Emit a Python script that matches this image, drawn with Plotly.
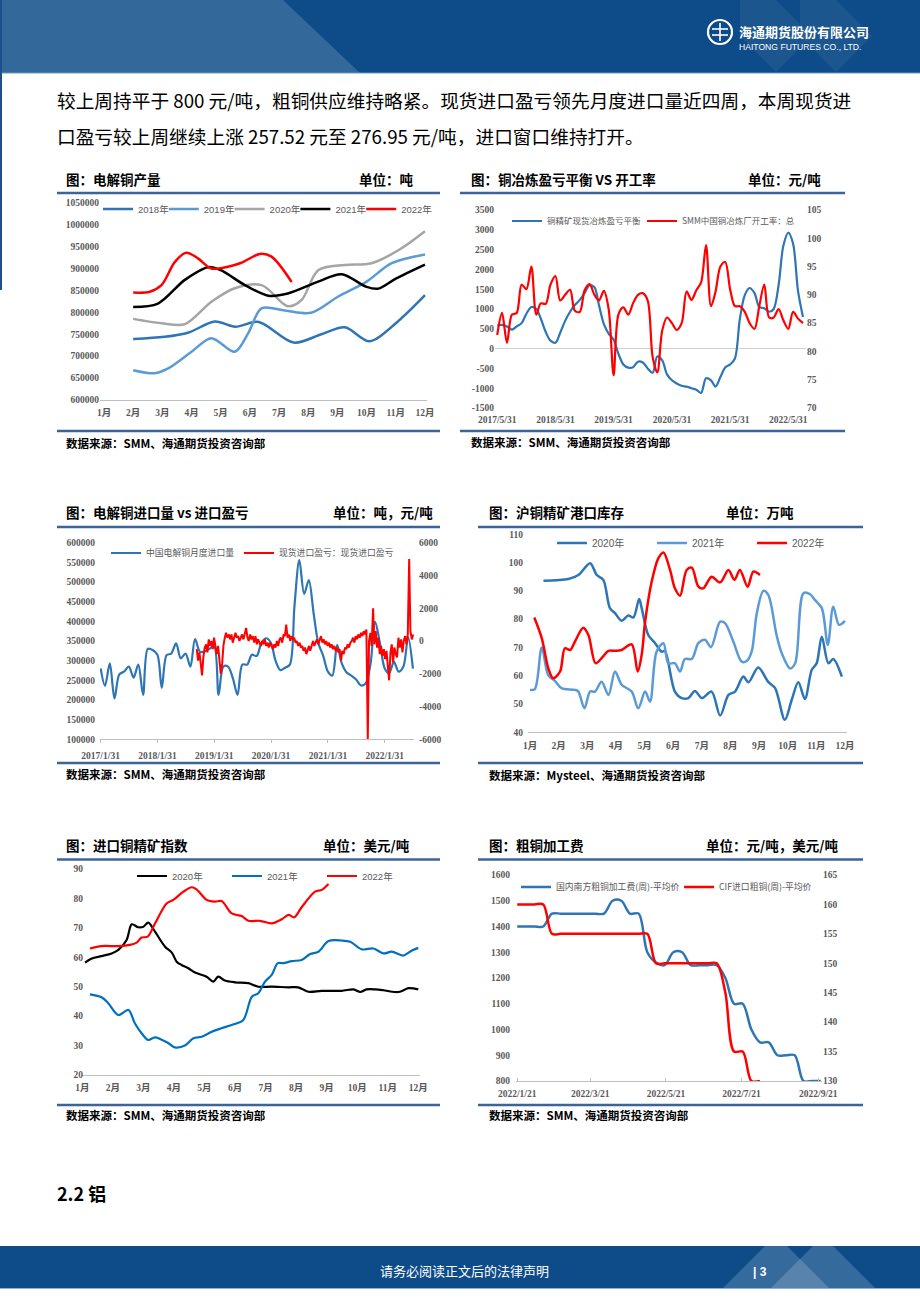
import plotly.graph_objects as go
import pandas as pd

W, H = 920, 1302


def PX(x):
    return x / W


def PY(y):
    return 1 - y / H


# ---------------- Chart 1 : 电解铜产量 (吨) ----------------
c1_months = list(range(1, 13))
c1_month_labels = [f"{m}月" for m in c1_months]
c1_yticks = list(range(600000, 1050001, 50000))
c1_2018_m = [2.0, 3.08, 3.9, 4.8, 5.5, 6.3, 7.5, 8.45, 9.25, 10.1, 11.0, 12.0]
c1_2018_v = [739000, 744000, 754000, 779000, 767000, 778000, 731000, 750000, 766000, 734000, 775000, 839000]
c1_2019_m = [2.0, 2.74, 3.2, 4.0, 4.68, 5.48, 5.94, 6.4, 7.2, 8.1, 9.03, 10.0, 10.86, 12.0]
c1_2019_v = [668000, 661000, 672000, 710000, 741000, 710000, 752000, 809000, 804000, 799000, 836000, 870000, 912000, 932000]
c1_2020_m = [2.0, 2.97, 3.77, 4.68, 5.48, 6.4, 7.3, 7.77, 8.34, 9.25, 10.17, 11.1, 12.0]
c1_2020_v = [785000, 775000, 773000, 824000, 855000, 862000, 814000, 828000, 896000, 908000, 912000, 942000, 985000]
c1_2021_m = [2.0, 2.85, 3.77, 4.57, 5.0, 5.83, 6.63, 7.3, 8.34, 9.14, 10.0, 10.4, 11.0, 12.0]
c1_2021_v = [812000, 820000, 874000, 903000, 896000, 862000, 838000, 843000, 870000, 887000, 858000, 854000, 877000, 909000]
c1_2022_m = [2.0, 2.57, 2.97, 3.43, 3.82, 4.22, 4.68, 5.25, 5.71, 6.34, 6.74, 7.43]
c1_2022_v = [845000, 847000, 862000, 915000, 936000, 923000, 900000, 904000, 913000, 933000, 927000, 869000]

# ---------------- Chart 2 : 铜冶炼盈亏平衡 VS 开工率 ----------------
c2_start = "2017-05-31"
c2_blue = [584, 600, 560, 480, 560, 643, 880, 1050, 1000, 760,
           420, 200, 150, 400, 700, 930, 1100, 1230, 1400, 1600,
           1550, 1100, 620, 380, 230, -130, -400, -480, -470, -330,
           -350, -500, -610, -200, -300, -650, -800, -880, -940, -960,
           -1000, -1040, -1120, -750, -800, -960, -720, -480, -400, -250,
           750, 1350, 1530, 1400, 1050, 1020, 930, 1000, 1600, 2600,
           2930, 2650, 1450, 800]
c2_red = [82.9, 86.8, 81.5, 86.5, 86.8, 91.8, 91.0, 95.0, 86.5, 88.5,
          88.4, 91.8, 93.3, 89.0, 90.0, 90.9, 87.2, 87.0, 90.8, 91.9,
          90.0, 89.0, 90.7, 87.5, 75.8, 86.5, 87.8, 86.5, 88.5, 90.0,
          90.3, 89.0, 79.0, 76.3, 83.7, 86.0, 85.0, 83.8, 85.0, 90.6,
          89.1, 90.8, 92.2, 98.8, 88.0, 90.5, 95.0, 95.8, 91.0, 88.0,
          88.0, 87.0, 85.0, 84.0, 88.0, 91.8, 86.0, 86.0, 87.5, 85.5,
          84.0, 87.0, 85.8, 85.0]
c2_xtick_vals = ["2017-05-31", "2018-05-31", "2019-05-31", "2020-05-31", "2021-05-31", "2022-05-31"]
c2_xtick_text = ["2017/5/31", "2018/5/31", "2019/5/31", "2020/5/31", "2021/5/31", "2022/5/31"]
c2_yticks_l = list(range(-1500, 3501, 500))
c2_yticks_r = list(range(70, 106, 5))

# ---------------- Chart 3 : 电解铜进口量 vs 进口盈亏 ----------------
c3_start = "2017-01-31"
c3_blue = [280500, 236000, 293000, 204000, 265000, 272000, 285000, 257000, 290000, 213000,
           330000, 327000, 315000, 231000, 314000, 318000, 344000, 306000, 318000, 285000,
           355000, 323000, 323000, 330000, 336000, 213000, 285000, 285000, 255000, 213000,
           290000, 290000, 315000, 312000, 345000, 357000, 345000, 300000, 276000, 282000,
           290000, 440000, 556000, 470000, 505000, 420000, 345000, 313000, 272000, 262000,
           340000, 293000, 270000, 262000, 252000, 237000, 242000, 290000, 399000, 345000,
           280000, 268000, 297000, 272000, 285000, 360000, 280000]
c3_red_start, c3_red_end = "2018-10-11", "2022-08-02"
c3_red = [
    -500, -1200, -700, -1600, -2100, -1000, -400,
    -200, -700, 100, -300, 0, -500,
    200, -400, -800, -300, -1100, -2000,
    -1400, -300, 200, 500, 200, 400,
    100, 400, -100, 300, 500, 200,
    300, 0, 300, 400, 100, 500,
    800, 200, 0, 400, 100, 300,
    -100, 300, -200, 100, -100, -300,
    0, -200, 100, -300, -100, -400,
    -100, -300, -500, -200, -400, 0,
    -300, 100, 200, -100, 400, 300,
    1000, 200, 400, 0, 300, 100,
    200, -100, 0, -300, -100, -400,
    -300, -600, -400, -800, -500, -300,
    -600, -200, 0, -300, -100, 100,
    -200, 0, 300, -100, 100, -200,
    0, -300, -100, -400, -200, -500,
    -300, -600, -400, -700, -500, -1200,
    -600, -800, -400, -500, -200, -400,
    -100, 0, 200, -100, 300, 100,
    400, 200, 500, 300, 600, 400, 700,
    -6000,
    0, 500, -300,
    2000,
    -200, 600, -400, 200, -800, -300,
    -900, -500, -1100, -600, -1300, -2400,
    -700, -200, -1300, -400, -800, -1000,
    200, -400, 100, -700, 0, 300, -200, 400,
    5000,
    600, 100, 400,
]
c3_xtick_vals = ["2017-01-31", "2018-01-31", "2019-01-31", "2020-01-31", "2021-01-31", "2022-01-31"]
c3_xtick_text = ["2017/1/31", "2018/1/31", "2019/1/31", "2020/1/31", "2021/1/31", "2022/1/31"]
c3_yticks_l = list(range(100000, 600001, 50000))
c3_yticks_r = list(range(-6000, 6001, 2000))

# ---------------- Chart 4 : 沪铜精矿港口库存 (万吨) ----------------
c4_yticks = list(range(40, 111, 10))
c4_2020_m = [1.47, 2.34, 2.69, 3.1, 3.33, 3.56, 3.79, 3.97, 4.2, 4.43,
             4.61, 4.81, 4.9, 5.13, 5.37, 5.6, 5.71, 6.06, 6.3, 6.53,
             6.76, 7.0, 7.34, 7.64, 7.93, 8.16, 8.45, 8.63, 8.97, 9.32,
             9.56, 9.9, 10.14, 10.37, 10.6, 10.84, 11.01, 11.19, 11.42, 11.59, 11.89]
c4_2020_v = [93.6, 94.2, 95.6, 99.8, 95.6, 93.9, 83.9, 82.1, 79.4, 81.3,
             80.6, 87.1, 83.9, 74.4, 71.5, 68.5, 68.8, 54.4, 52.1, 52.1,
             54.6, 52.1, 54.4, 45.9, 53.2, 54.4, 59.7, 57.7, 62.9, 57.8,
             55.6, 44.4, 51.5, 57.7, 51.8, 62.1, 64.4, 73.8, 64.4, 65.9, 59.7]
c4_2021_m = [1.0, 1.17, 1.41, 1.64, 1.87, 2.1, 2.57, 2.69, 2.9, 3.1,
             3.27, 3.5, 3.74, 3.97, 4.2, 4.55, 4.78, 5.02, 5.19, 5.42,
             5.66, 5.83, 6.06, 6.24, 6.41, 6.65, 6.88, 7.11, 7.32, 7.64,
             7.81, 8.1, 8.39, 8.57, 8.74, 8.92, 9.15, 9.32, 9.61, 9.79,
             10.08, 10.26, 10.55, 10.78, 10.95, 11.19, 11.4, 11.59, 11.79, 12.0]
c4_2021_v = [55.0, 55.3, 70.0, 60.1, 58.2, 55.6, 55.0, 54.4, 48.5, 54.4,
             54.4, 57.9, 53.2, 61.5, 56.8, 54.4, 48.5, 54.4, 50.9, 68.5,
             71.5, 64.4, 64.4, 61.5, 65.9, 65.9, 71.5, 72.7, 70.1, 79.1,
             78.6, 72.1, 65.0, 65.2, 68.5, 82.1, 90.0, 88.6, 74.4, 68.0,
             62.6, 64.4, 89.2, 88.8, 86.8, 83.9, 70.9, 84.4, 78.0, 79.4]
c4_2022_m = [1.15, 1.41, 1.64, 1.81, 2.05, 2.22, 2.4, 2.57, 2.86, 3.04,
             3.29, 3.5, 3.74, 3.97, 4.2, 4.55, 4.76, 4.9, 5.02, 5.25,
             5.48, 5.66, 5.89, 6.06, 6.24, 6.47, 6.65, 6.88, 7.05, 7.34,
             7.64, 7.93, 8.14, 8.33, 8.6, 8.8, 9.03]
c4_2022_v = [80.6, 73.3, 62.6, 59.1, 61.5, 69.7, 69.1, 72.1, 77.0, 74.4,
             64.4, 66.2, 68.8, 68.8, 69.1, 71.1, 61.5, 67.4, 79.1, 93.3,
             101.5, 103.6, 97.4, 90.9, 88.3, 97.4, 98.2, 91.5, 90.9, 95.0,
             93.0, 97.4, 93.9, 97.4, 91.5, 96.8, 95.6]

# ---------------- Chart 5 : 进口铜精矿指数 (美元/吨) ----------------
c5_yticks = list(range(20, 91, 10))
c5_2020_m = [1.09, 1.31, 1.63, 1.96, 2.18, 2.45, 2.62, 2.83, 3.0, 3.16,
             3.38, 3.71, 3.93, 4.09, 4.25, 4.47, 4.69, 5.07, 5.29, 5.45,
             5.67, 6.0, 6.44, 6.76, 7.2, 7.75, 8.07, 8.4, 8.84, 9.49,
             9.88, 10.1, 10.3, 10.6, 10.86, 11.24, 11.4, 11.68, 12.0]
c5_2020_v = [58.2, 59.6, 60.4, 61.3, 62.5, 65.9, 71.2, 70.2, 70.4, 71.8,
             68.7, 63.6, 61.6, 58.5, 57.4, 56.3, 54.8, 53.4, 51.7, 53.4,
             52.1, 51.5, 51.2, 50.0, 50.0, 49.8, 49.8, 48.3, 48.6, 48.6,
             49.1, 48.2, 49.1, 49.1, 48.8, 48.2, 48.3, 49.5, 49.1]
c5_2021_m = [1.25, 1.63, 1.85, 2.18, 2.51, 2.72, 2.94, 3.16, 3.38, 3.82,
             4.03, 4.36, 4.64, 4.91, 5.24, 5.56, 5.89, 6.27, 6.55, 6.76,
             6.98, 7.2, 7.4, 7.58, 7.86, 8.18, 8.46, 8.73, 9.06, 9.49,
             9.77, 10.15, 10.53, 10.86, 11.13, 11.51, 11.79, 12.0]
c5_2021_v = [47.4, 46.4, 44.4, 40.4, 42.1, 37.6, 34.2, 31.9, 32.8, 30.8,
             29.4, 30.0, 32.5, 33.0, 34.7, 35.9, 37.0, 38.7, 46.6, 47.8,
             51.7, 54.0, 58.0, 58.0, 58.7, 59.1, 61.1, 61.9, 65.5, 65.7,
             65.3, 62.7, 63.0, 61.3, 61.9, 60.6, 62.3, 63.2]
c5_2022_m = [1.25, 1.63, 2.18, 2.56, 2.78, 2.94, 3.14, 3.38, 3.76, 3.98,
             4.31, 4.58, 4.74, 5.07, 5.34, 5.56, 5.89, 6.22, 6.44, 6.82,
             7.2, 7.53, 7.75, 7.94, 8.18, 8.62, 8.84, 9.06]
c5_2022_v = [63.0, 63.8, 63.8, 64.2, 65.0, 66.7, 67.0, 71.5, 78.3, 79.5,
             82.3, 83.8, 83.1, 79.5, 78.9, 79.1, 74.9, 74.0, 72.4, 72.4,
             71.5, 72.9, 74.4, 73.6, 77.0, 82.3, 82.9, 84.9]

# ---------------- Chart 6 : 粗铜加工费 ----------------
c6_start = "2022-01-21"
c6_blue = [1400, 1400, 1400, 1400, 1450, 1450, 1450, 1450, 1450, 1450,
           1450, 1500, 1500, 1450, 1450, 1300, 1260, 1250, 1300, 1300,
           1250, 1250, 1250, 1250, 1200, 1100, 1100, 1000, 950, 950,
           900, 900, 900, 800, 800, 800]
c6_red = [160, 160, 160, 160, 155, 155, 155, 155, 155, 155,
          155, 155, 155, 155, 155, 155, 150, 150, 150, 150,
          150, 150, 150, 150, 145, 135, 135, 130, 130]
c6_xtick_vals = ["2022-01-21", "2022-03-21", "2022-05-21", "2022-07-21", "2022-09-21"]
c6_xtick_text = ["2022/1/21", "2022/3/21", "2022/5/21", "2022/7/21", "2022/9/21"]
c6_yticks_l = list(range(800, 1601, 100))
c6_yticks_r = list(range(130, 166, 5))

# ---------------- page text ----------------
body_line1 = "较上周持平于 800 元/吨，粗铜供应维持略紧。现货进口盈亏领先月度进口量近四周，本周现货进"
body_line2 = "口盈亏较上周继续上涨 257.52 元至 276.95 元/吨，进口窗口维持打开。"

# ======================================================================
BLUE_D, BLUE_L, GRAY, RED, BLK, BLUE_M = "#2E75B6", "#5B9BD5", "#A5A5A5", "#FF0000", "#000000", "#0070C0"
CJK = "Noto Sans CJK SC"
SERIF = "Liberation Serif, Noto Sans CJK SC"
TICKFONT = dict(family=SERIF, size=9.5, color="#595959", weight="bold")

fig = go.Figure()


def dates(start, n, freq):
    return [d.strftime("%Y-%m-%d") for d in pd.date_range(start, periods=n, freq=freq)]


def add_line(x, y, name, color, xa, ya, leg, width=2.5, shape="spline", smoothing=0.9, lw=None):
    tr = go.Scatter(
        x=x, y=y, name=name, mode="lines",
        line=dict(color=color, width=width, shape=shape, smoothing=smoothing),
        xaxis=xa, yaxis=ya, legend=leg, hoverinfo="skip")
    if lw:
        tr.legendwidth = lw
    fig.add_trace(tr)


# chart 1
for m, v, nm, col, lw in [(c1_2018_m, c1_2018_v, "2018年", BLUE_D, None), (c1_2019_m, c1_2019_v, "2019年", BLUE_L, None),
                          (c1_2020_m, c1_2020_v, "2020年", GRAY, None), (c1_2021_m, c1_2021_v, "2021年", BLK, None),
                          (c1_2022_m, c1_2022_v, "2022年", RED, 34)]:
    add_line(m, v, nm, col, "x", "y", "legend", lw=lw)

# chart 2
me = pd.offsets.MonthEnd()
add_line(dates(c2_start, len(c2_blue), me), c2_blue, "铜精矿现货冶炼盈亏平衡", BLUE_D, "x2", "y2", "legend2", width=2.2)
add_line(dates(c2_start, len(c2_red), me), c2_red, "SMM中国铜冶炼厂开工率：总", RED, "x2", "y7", "legend2", width=2.2, lw=120)

# chart 3
add_line(dates(c3_start, len(c3_blue), me), c3_blue, "中国电解铜月度进口量", BLUE_D, "x3", "y3", "legend3", width=2.2)
c3_red_x = [d.strftime("%Y-%m-%d") for d in pd.date_range(c3_red_start, c3_red_end, periods=len(c3_red))]
add_line(c3_red_x, c3_red, "现货进口盈亏：现货进口盈亏", RED, "x3", "y8", "legend3", width=2, shape="linear", lw=125)

# chart 4
for m, v, nm, col in [(c4_2020_m, c4_2020_v, "2020年", BLUE_D), (c4_2021_m, c4_2021_v, "2021年", BLUE_L),
                      (c4_2022_m, c4_2022_v, "2022年", RED)]:
    add_line(m, v, nm, col, "x4", "y4", "legend4", width=2.5)

# chart 5
for m, v, nm, col in [(c5_2020_m, c5_2020_v, "2020年", BLK), (c5_2021_m, c5_2021_v, "2021年", BLUE_M),
                      (c5_2022_m, c5_2022_v, "2022年", RED)]:
    add_line(m, v, nm, col, "x5", "y5", "legend5", width=2.2)

# chart 6
add_line(dates(c6_start, len(c6_blue), "7D"), c6_blue, "国内南方粗铜加工费(周)-平均价", BLUE_D, "x6", "y6", "legend6", width=2.5)
add_line(dates(c6_start, len(c6_red), "7D"), c6_red, "CIF进口粗铜(周)-平均价", RED, "x6", "y9", "legend6", width=2.5, lw=120)


# ---------------- axes ----------------
def xax(dom, rng, tv, tt, anchor, typ="linear", showline=True, ticks="", standoff=4):
    return dict(domain=[PX(dom[0]), PX(dom[1])], range=rng, type=typ, tickmode="array",
                tickvals=tv, ticktext=tt, anchor=anchor, showgrid=False, zeroline=False,
                showline=showline, linecolor="#BFBFBF", linewidth=1, ticks=ticks, ticklen=3,
                tickcolor="#BFBFBF", tickfont=TICKFONT, ticklabelstandoff=standoff, fixedrange=True,
                automargin=False)


def yax(dom, rng, tv, anchor, side="left", overlaying=None, standoff=0, zeroline=False):
    d = dict(range=rng, tickmode="array", tickvals=tv, ticktext=[str(v) for v in tv],
             anchor=anchor, side=side, showgrid=False, zeroline=zeroline, zerolinecolor="#D0D0D0",
             zerolinewidth=1, showline=False, ticks="", tickfont=TICKFONT,
             ticklabelstandoff=standoff, fixedrange=True, automargin=False)
    if overlaying:
        d["overlaying"] = overlaying
    else:
        d["domain"] = [PY(dom[1]), PY(dom[0])]
    return d


layout_axes = dict(
    xaxis=xax((100, 427), [0.863, 12.069], c1_months, c1_month_labels, "y", showline=True),
    yaxis=yax((202.7, 400), [600000, 1050000], c1_yticks, "x", standoff=0),
    xaxis2=xax((495, 806), ["2017-05-17", "2022-09-19"], c2_xtick_vals, c2_xtick_text, "y2", typ="date", showline=False),
    yaxis2=yax((210, 408), [-1500, 3500], c2_yticks_l, "x2", zeroline=True),
    yaxis7=yax(None, [70, 105], c2_yticks_r, "x2", side="right", overlaying="y2"),
    xaxis3=xax((100, 414), ["2017-01-27", "2022-08-07"], c3_xtick_vals, c3_xtick_text, "y3", typ="date", ticks="outside"),
    yaxis3=yax((542.7, 739.3), [100000, 600000], c3_yticks_l, "x3", standoff=4),
    yaxis8=yax(None, [-6000, 6000], c3_yticks_r, "x3", side="right", overlaying="y3", standoff=4),
    xaxis4=xax((528, 847), [0.930, 12.070], c1_months, c1_month_labels, "y4"),
    yaxis4=yax((534.3, 732.3), [40, 110], c4_yticks, "x4", standoff=4),
    xaxis5=xax((82, 420), [0.990, 12.056], c1_months, c1_month_labels, "y5"),
    yaxis5=yax((869, 1075), [20, 90], c5_yticks, "x5", standoff=-2),
    xaxis6=xax((516, 822), ["2022-01-20", "2022-09-24"], c6_xtick_vals, c6_xtick_text, "y6", typ="date", ticks="inside"),
    yaxis6=yax((875, 1081), [800, 1600], c6_yticks_l, "x6", standoff=5),
    yaxis9=yax(None, [130, 165], c6_yticks_r, "x6", side="right", overlaying="y6"),
)


# ---------------- legends ----------------
def leg(x_text, y, ew, family, size):
    return dict(x=PX(x_text - 40), y=PY(y), xanchor="left", yanchor="middle", orientation="h",
                entrywidth=ew, entrywidthmode="pixels", bgcolor="rgba(0,0,0,0)", borderwidth=0,
                font=dict(family=family, size=size, color="#595959"), itemclick=False, itemdoubleclick=False)


LAT = "Liberation Sans, Arial, Noto Sans CJK SC"
legends = dict(
    legend=leg(138, 209, 20.8, LAT, 9.5),
    legend2=leg(547, 221, 90, CJK, 8.5),
    legend3=leg(146, 553, 88, CJK, 8.8),
    legend4=leg(592, 543, 55, LAT, 10),
    legend5=leg(172, 876, 50, LAT, 9.5),
    legend6=leg(556, 887, 118, CJK, 8.8),
)

# ---------------- text annotations ----------------
ann = []


def txt(x, y, s, size, family=CJK, color="#000000", bold=False, xanchor="left"):
    ann.append(dict(x=PX(x), y=PY(y), xref="paper", yref="paper", text=("<b>%s</b>" % s) if bold else s,
                    showarrow=False, xanchor=xanchor, yanchor="middle", borderpad=0,
                    font=dict(size=size, family=family, color=color)))


txt(56, 100, body_line1, 18.7)
txt(56, 136, body_line2, 18.7)

titles = [
    (65, 179, "图：电解铜产量", 358, "单位：吨", 443),
    (470, 179, "图：铜冶炼盈亏平衡 VS 开工率", 747, "单位：元/吨", 442),
    (65, 512, "图：电解铜进口量 vs 进口盈亏", 332, "单位：吨，元/吨", 774),
    (488, 512, "图：沪铜精矿港口库存", 725, "单位：万吨", 775),
    (65, 845, "图：进口铜精矿指数", 322, "单位：美元/吨", 1115),
    (488, 845, "图：粗铜加工费", 705, "单位：元/吨，美元/吨", 1115),
]
sources = ["数据来源：SMM、海通期货投资咨询部", "数据来源：SMM、海通期货投资咨询部",
           "数据来源：SMM、海通期货投资咨询部", "数据来源：Mysteel、海通期货投资咨询部",
           "数据来源：SMM、海通期货投资咨询部", "数据来源：SMM、海通期货投资咨询部"]
for (tx, ty, t, ux, u, sy), src in zip(titles, sources):
    txt(tx, ty, t, 13.5, bold=True)
    txt(ux, ty, u, 13.5, bold=True)
    txt(tx, sy, src, 11.5, bold=True)

txt(56, 1193, "2.2 铝", 18, bold=True)
txt(464, 1270, "请务必阅读正文后的法律声明", 13, color="#FFFFFF", xanchor="center")
txt(752, 1272, "| 3", 12, family="Liberation Sans", color="#FFFFFF", bold=True)
txt(738, 31, "海通期货股份有限公司", 13, color="#FFFFFF", bold=True)
txt(738, 47, "HAITONG FUTURES CO., LTD.", 8.6, family="Liberation Sans", color="#FFFFFF")

# ---------------- decorative shapes ----------------
shapes = []


def path(pts):
    return "M " + " L ".join("%.5f,%.5f" % (PX(a), PY(b)) for a, b in pts) + " Z"


def poly(pts, fill):
    shapes.append(dict(type="path", xref="paper", yref="paper", path=path(pts), fillcolor=fill,
                       line=dict(width=0), layer="below"))


def hline(x0, x1, y, color, width):
    shapes.append(dict(type="line", xref="paper", yref="paper", x0=PX(x0), x1=PX(x1), y0=PY(y), y1=PY(y),
                       line=dict(color=color, width=width)))


# header band
poly([(0, 0), (920, 0), (920, 73), (0, 73)], "#0D4C89")
poly([(0, 0), (283, 0), (360, 73), (0, 73)], "#33689A")
poly([(740, 0), (776, 0), (812, 36), (776, 72), (740, 36)], "rgba(255,255,255,0.06)")
poly([(800, 0), (836, 0), (872, 36), (836, 72), (800, 36)], "rgba(255,255,255,0.06)")
hline(0, 920, 73, "#6E97C4", 1)
shapes.append(dict(type="line", xref="paper", yref="paper", x0=PX(1), x1=PX(1), y0=PY(0), y1=PY(290),
                   line=dict(color="#1F4E8C", width=2)))
# logo ring
shapes.append(dict(type="circle", xref="paper", yref="paper", x0=PX(708), x1=PX(732), y0=PY(44), y1=PY(20),
                   line=dict(color="#FFFFFF", width=2.2)))
for yy in (29, 35):
    hline(712, 728, yy, "#FFFFFF", 1.6)
shapes.append(dict(type="line", xref="paper", yref="paper", x0=PX(720), x1=PX(720), y0=PY(23), y1=PY(41),
                   line=dict(color="#FFFFFF", width=1.6)))

# footer band
poly([(0, 1246), (920, 1246), (920, 1288), (0, 1288)], "#0D4C89")
poly([(723, 1288), (765, 1246), (787, 1246), (829, 1288)], "rgba(255,255,255,0.17)")
poly([(771, 1288), (813, 1246), (833, 1246), (875, 1288)], "rgba(255,255,255,0.17)")
hline(0, 920, 1288.5, "#8FB0D6", 1)

# chart rules
RULE = "#3D6499"
for x0, x1, ys in [(57, 440, (193, 431)), (460, 845, (193, 431)), (57, 440, (527, 763)),
                   (478, 863, (527, 763)), (57, 440, (859.5, 1105)), (478, 863, (859.5, 1105))]:
    for yy in ys:
        hline(x0, x1, yy, RULE, 2.6)

fig.update_layout(
    width=W, height=H, margin=dict(l=0, r=0, t=0, b=0, pad=0, autoexpand=False),
    paper_bgcolor="#FFFFFF", plot_bgcolor="rgba(0,0,0,0)",
    hovermode=False, showlegend=True,
    annotations=ann, shapes=shapes,
    **layout_axes, **legends,
)

fig.write_html("out.html", config={"displayModeBar": False},
               post_script="document.body.style.margin='0px';document.body.style.overflow='hidden';")
